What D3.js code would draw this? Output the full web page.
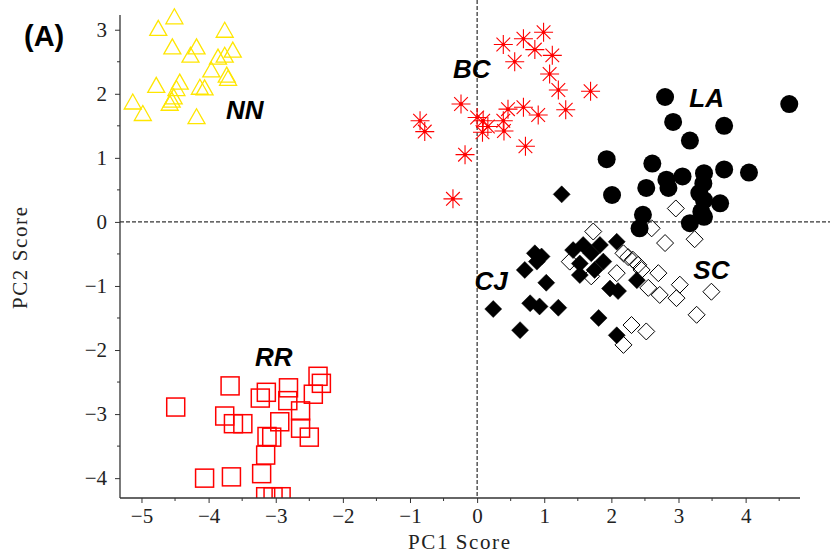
<!DOCTYPE html>
<html>
<head>
<meta charset="utf-8">
<script src="https://cdn.jsdelivr.net/npm/d3@7"></script>
<style>
    body { margin: 0; background: white; }
    .tick text { font-family: "Liberation Serif", "Times New Roman", serif; }
</style>
</head>
<body>
<div id="chart"></div>
<script>
// PC scores, one small list per group
let nnX = [-4.51, -4.75, -3.76, -4.54, -4.18, -4.27, -3.64, -3.86, -3.76, -3.96, -3.73, -3.71, -4.78, -4.43, -4.48, -4.13, -4.06, -4.52, -4.55, -4.58, -5.13, -4.98, -4.18];
let nnY = [3.21, 3.03, 3.00, 2.74, 2.74, 2.61, 2.69, 2.58, 2.61, 2.38, 2.30, 2.25, 2.14, 2.19, 2.09, 2.11, 2.10, 1.96, 1.91, 1.86, 1.88, 1.70, 1.65];

let bcX = [0.99, 0.69, 0.39, 0.86, 1.12, 0.56, 1.08, 1.21, 1.69, 1.32, -0.24, 0.46, 0.69, 0.91, 0.00, 0.09, 0.39, -0.85, -0.78, 0.08, 0.40, 0.16, 0.72, -0.18, -0.36];
let bcY = [2.96, 2.86, 2.77, 2.69, 2.60, 2.50, 2.31, 2.06, 2.04, 1.75, 1.84, 1.76, 1.79, 1.67, 1.63, 1.58, 1.58, 1.58, 1.41, 1.40, 1.42, 1.49, 1.18, 1.05, 0.36];

let laX = [2.80, 2.92, 3.68, 3.17, 1.93, 2.61, 3.06, 3.38, 3.68, 4.05, 2.82, 2.85, 2.52, 2.01, 3.37, 3.31, 3.62, 3.38, 2.47, 3.17, 2.42, 4.65, 3.34, 3.38];
let laY = [1.95, 1.56, 1.50, 1.27, 0.98, 0.91, 0.71, 0.76, 0.82, 0.77, 0.66, 0.53, 0.53, 0.42, 0.60, 0.45, 0.29, 0.08, 0.11, -0.02, -0.10, 1.84, 0.16, 0.34];

let cjX = [1.26, 2.08, 0.86, 1.43, 1.58, 1.83, 0.89, 0.71, 1.70, 1.53, 1.88, 1.53, 1.75, 1.03, 1.98, 2.10, 2.38, 0.24, 0.79, 0.93, 1.21, 0.64, 1.81, 2.08, 0.96];
let cjY = [0.43, -0.31, -0.49, -0.44, -0.36, -0.36, -0.62, -0.75, -0.49, -0.65, -0.62, -0.83, -0.75, -0.95, -1.04, -1.08, -0.91, -1.36, -1.27, -1.32, -1.34, -1.69, -1.50, -1.77, -0.54];

let scX = [2.96, 1.73, 2.60, 2.80, 3.24, 1.38, 2.18, 2.32, 2.08, 2.45, 1.70, 2.70, 2.55, 2.72, 3.02, 2.97, 3.49, 3.27, 2.30, 2.52, 2.18, 2.25, 2.40];
let scY = [0.21, -0.15, -0.10, -0.33, -0.27, -0.62, -0.49, -0.59, -0.80, -0.75, -0.85, -0.80, -1.03, -1.14, -0.98, -1.19, -1.09, -1.45, -1.61, -1.71, -1.92, -0.55, -0.67];

let rrX = [-3.68, -3.14, -3.23, -2.81, -2.82, -2.37, -2.32, -2.44, -2.63, -3.76, -3.63, -3.49, -2.94, -2.63, -2.50, -3.13, -3.06, -3.15, -3.21, -4.06, -3.66, -4.49, -3.15, -3.04, -2.92];
let rrY = [-2.56, -2.66, -2.75, -2.59, -2.79, -2.41, -2.52, -2.69, -2.95, -3.03, -3.15, -3.15, -3.12, -3.22, -3.36, -3.35, -3.36, -3.64, -3.93, -4.00, -3.98, -2.89, -4.29, -4.29, -4.29];

let xTicks = [-5, -4, -3, -2, -1, 0, 1, 2, 3, 4];
let yTicks = [-4, -3, -2, -1, 0, 1, 2, 3];
let groupNames = ["NN", "BC", "LA", "CJ", "SC", "RR"];
let labelX = [-3.46, -0.08, 3.42, 0.21, 3.49, -3.03];
let labelY = [1.61, 2.25, 1.80, -1.06, -0.89, -2.25];

let width = 830, height = 556;
let plotLeft = 120, plotRight = 800, plotTop = 15, plotBottom = 498;

let svg = d3.select("#chart").append("svg")
    .attr("width", width)
    .attr("height", height);

let x = d3.scaleLinear().domain([-5.32, 4.81]).range([plotLeft, plotRight]);
let y = d3.scaleLinear().domain([-4.31, 3.23]).range([plotBottom, plotTop]);

function zip(xs, ys) {
    return xs.map((v, i) => ({ x: v, y: ys[i] }));
}

svg.append("clipPath").attr("id", "plotClip")
    .append("rect")
    .attr("x", plotLeft).attr("y", 0)
    .attr("width", width - plotLeft).attr("height", plotBottom);

//dashed zero lines
svg.append("line")
    .attr("x1", x(0)).attr("x2", x(0))
    .attr("y1", 0).attr("y2", plotBottom)
    .style("stroke", "black").style("stroke-width", 1)
    .style("stroke-dasharray", "4,2");
svg.append("line")
    .attr("x1", plotLeft).attr("x2", width)
    .attr("y1", y(0)).attr("y2", y(0))
    .style("stroke", "black").style("stroke-width", 1)
    .style("stroke-dasharray", "4,2");

let plot = svg.append("g").attr("clip-path", "url(#plotClip)");

//SC open diamonds (drawn first, filled ones sit on top)
let d = 8.5;
function diamondPath(p) {
    return "M" + x(p.x) + "," + (y(p.y) - d) + "l" + d + "," + d + "l" + (-d) + "," + d + "l" + (-d) + "," + (-d) + "z";
}
plot.selectAll("path.sc").data(zip(scX, scY)).enter().append("path")
    .attr("class", "sc")
    .attr("d", diamondPath)
    .style("fill", "none").style("stroke", "black").style("stroke-width", 1);

//CJ filled diamonds
plot.selectAll("path.cj").data(zip(cjX, cjY)).enter().append("path")
    .attr("class", "cj")
    .attr("d", diamondPath)
    .style("fill", "black").style("stroke", "black").style("stroke-width", 0.5);

//LA filled circles
plot.selectAll("circle.la").data(zip(laX, laY)).enter().append("circle")
    .attr("class", "la")
    .attr("cx", p => x(p.x)).attr("cy", p => y(p.y)).attr("r", 9)
    .style("fill", "black");

//NN open triangles
let tw = 8.5, th = 15;
plot.selectAll("path.nn").data(zip(nnX, nnY)).enter().append("path")
    .attr("class", "nn")
    .attr("d", p => "M" + x(p.x) + "," + (y(p.y) - th / 2) + "l" + tw + "," + th + "l" + (-2 * tw) + ",0z")
    .style("fill", "none").style("stroke", "#ffe600").style("stroke-width", 1.3);

//BC asterisks
let a = 9.5, ad = a * 0.72;
let bc = plot.selectAll("g.bc").data(zip(bcX, bcY)).enter().append("g")
    .attr("class", "bc")
    .attr("transform", p => "translate(" + x(p.x) + "," + y(p.y) + ")");
bc.append("path")
    .attr("d", "M" + (-a) + ",0H" + a + "M0," + (-a) + "V" + a +
        "M" + (-ad) + "," + (-ad) + "L" + ad + "," + ad + "M" + (-ad) + "," + ad + "L" + ad + "," + (-ad))
    .style("stroke", "#ff0000").style("stroke-width", 1.1).style("fill", "none");
bc.append("circle").attr("r", 1.8).style("fill", "#ff0000");

//RR open squares
let s = 9;
plot.selectAll("rect.rr").data(zip(rrX, rrY)).enter().append("rect")
    .attr("class", "rr")
    .attr("x", p => x(p.x) - s).attr("y", p => y(p.y) - s)
    .attr("width", 2 * s).attr("height", 2 * s)
    .style("fill", "none").style("stroke", "#ff0000").style("stroke-width", 1.5);

//axes
let xAxis = svg.append("g").attr("transform", "translate(0," + plotBottom + ")")
    .call(d3.axisBottom(x).tickValues(xTicks).tickFormat(d3.format("d")).tickSize(5).tickPadding(5));
let yAxis = svg.append("g").attr("transform", "translate(" + plotLeft + ",0)")
    .call(d3.axisLeft(y).tickValues(yTicks).tickFormat(d3.format("d")).tickSize(5).tickPadding(8));

[xAxis, yAxis].forEach(g => {
    g.select(".domain").remove();
    g.selectAll(".tick line").style("stroke", "#333");
    g.selectAll(".tick text").attr("font-size", 21).style("fill", "#222");
});

//minor ticks at halves
let xMinor = [-5.5].concat(xTicks.map(t => t + 0.5)).filter(t => t > -5.32 && t < 4.81);
svg.selectAll("line.xminor").data(xMinor).enter().append("line")
    .attr("x1", t => x(t)).attr("x2", t => x(t))
    .attr("y1", plotBottom).attr("y2", plotBottom + 3)
    .style("stroke", "#333");
let yMinor = [-4.5].concat(yTicks.map(t => t + 0.5)).filter(t => t > -4.31 && t < 3.23);
svg.selectAll("line.yminor").data(yMinor).enter().append("line")
    .attr("x1", plotLeft - 3).attr("x2", plotLeft)
    .attr("y1", t => y(t)).attr("y2", t => y(t))
    .style("stroke", "#333");

//axis lines
svg.append("line").attr("x1", plotLeft).attr("x2", plotRight).attr("y1", plotBottom).attr("y2", plotBottom)
    .style("stroke", "#333").style("stroke-width", 1.3);
svg.append("line").attr("x1", plotLeft).attr("x2", plotLeft).attr("y1", plotTop).attr("y2", plotBottom)
    .style("stroke", "#333").style("stroke-width", 1.3);

//axis titles
svg.append("text")
    .attr("x", 408).attr("y", 549)
    .attr("textLength", 102).attr("lengthAdjust", "spacing")
    .style("font-family", "Liberation Serif, Times New Roman, serif")
    .style("font-size", "21px").style("fill", "#222")
    .text("PC1 Score");
svg.append("text")
    .attr("transform", "translate(27,309) rotate(-90)")
    .attr("textLength", 102).attr("lengthAdjust", "spacing")
    .style("font-family", "Liberation Serif, Times New Roman, serif")
    .style("font-size", "21px").style("fill", "#222")
    .text("PC2 Score");

//group labels
svg.selectAll("text.group").data(groupNames).enter().append("text")
    .attr("class", "group")
    .attr("x", (n, i) => x(labelX[i])).attr("y", (n, i) => y(labelY[i]))
    .attr("text-anchor", "middle")
    .style("font-family", "Liberation Sans, Arial, sans-serif")
    .style("font-weight", "bold").style("font-style", "italic")
    .style("font-size", "26px").style("fill", "black")
    .text(n => n);

//panel letter
svg.append("text")
    .attr("x", 24).attr("y", 46)
    .style("font-family", "Liberation Sans, Arial, sans-serif")
    .style("font-weight", "bold").style("font-size", "29px").style("fill", "black")
    .text("(A)");
</script>
</body>
</html>
